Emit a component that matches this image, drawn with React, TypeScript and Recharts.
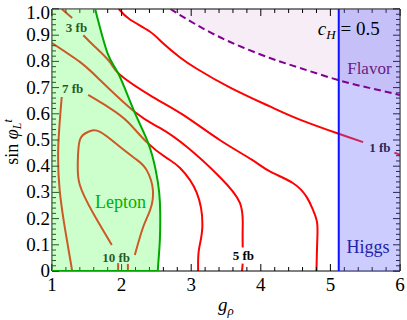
import React from 'react';
import { ComposedChart, Line, Area, XAxis, YAxis, ReferenceDot } from 'recharts';

const W = 407;
const H = 320;
const SERIF = "'Liberation Serif', 'DejaVu Serif', serif";

// ---- contour lines (g_rho, sin phi) ----
const contour1fbA = [
  { x: 1.96, y: 1.0 }, { x: 2.12, y: 0.96 }, { x: 2.4, y: 0.915 }, { x: 2.6, y: 0.868 },
  { x: 2.84, y: 0.815 }, { x: 3.08, y: 0.772 }, { x: 3.56, y: 0.7 }, { x: 4.13, y: 0.628 },
  { x: 4.56, y: 0.578 }, { x: 5.14, y: 0.522 }, { x: 5.47, y: 0.492 },
];
const contour1fbB = [{ x: 5.92, y: 0.452 }, { x: 6.0, y: 0.443 }];

const contour3fbA = [{ x: 1.14, y: 1.0 }, { x: 1.29, y: 0.966 }];
const contour3fbB = [
  { x: 1.45, y: 0.9 }, { x: 1.62, y: 0.855 }, { x: 1.83, y: 0.798 }, { x: 1.98, y: 0.748 },
  { x: 2.45, y: 0.664 }, { x: 2.89, y: 0.595 }, { x: 3.41, y: 0.5 }, { x: 3.87, y: 0.425 },
  { x: 4.13, y: 0.38 }, { x: 4.46, y: 0.336 }, { x: 4.66, y: 0.282 }, { x: 4.75, y: 0.233 },
  { x: 4.81, y: 0.183 }, { x: 4.81, y: 0.107 }, { x: 4.8, y: 0.0 },
];

const contour5fbA = [
  { x: 1.0, y: 0.87 }, { x: 1.4, y: 0.798 }, { x: 1.69, y: 0.729 }, { x: 2.19, y: 0.607 },
  { x: 2.55, y: 0.546 }, { x: 2.94, y: 0.473 }, { x: 3.41, y: 0.359 }, { x: 3.7, y: 0.26 },
  { x: 3.74, y: 0.168 }, { x: 3.74, y: 0.09 },
];
const contour5fbB = [{ x: 3.74, y: 0.028 }, { x: 3.73, y: 0.0 }];

const contour7fbA = [
  { x: 1.29, y: 0.0 }, { x: 1.19, y: 0.156 }, { x: 1.11, y: 0.309 }, { x: 1.09, y: 0.473 },
  { x: 1.14, y: 0.664 },
];
const contour7fbB = [
  { x: 1.52, y: 0.672 }, { x: 1.83, y: 0.622 }, { x: 2.09, y: 0.569 }, { x: 2.36, y: 0.492 },
  { x: 2.65, y: 0.431 }, { x: 2.84, y: 0.393 }, { x: 3.08, y: 0.298 }, { x: 3.16, y: 0.168 },
  { x: 3.11, y: 0.08 }, { x: 3.1, y: 0.0 },
];

const contour10fbA = [{ x: 1.95, y: 0.0 }, { x: 1.95, y: 0.03 }];
const contour10fbB = [
  { x: 1.86, y: 0.099 }, { x: 1.59, y: 0.221 }, { x: 1.4, y: 0.328 }, { x: 1.37, y: 0.412 },
  { x: 1.4, y: 0.5 }, { x: 1.52, y: 0.531 }, { x: 1.69, y: 0.531 }, { x: 1.98, y: 0.473 },
  { x: 2.22, y: 0.424 }, { x: 2.36, y: 0.385 }, { x: 2.45, y: 0.309 }, { x: 2.41, y: 0.233 },
  { x: 2.31, y: 0.168 }, { x: 2.19, y: 0.061 },
];
const contour10fbC = [{ x: 2.09, y: 0.027 }, { x: 2.09, y: 0.0 }];

// ---- exclusion regions ----
const leptonBoundary = [
  { x: 1.62, y: 1.0 }, { x: 1.8, y: 0.83 }, { x: 1.96, y: 0.75 }, { x: 2.18, y: 0.61 },
  { x: 2.38, y: 0.49 }, { x: 2.49, y: 0.385 }, { x: 2.54, y: 0.3 }, { x: 2.555, y: 0.22 },
  { x: 2.55, y: 0.12 }, { x: 2.53, y: 0.04 }, { x: 2.52, y: 0.0 },
];
const flavorBoundary = [
  { x: 2.7, y: 1.0 }, { x: 3.08, y: 0.939 }, { x: 3.56, y: 0.874 }, { x: 4.13, y: 0.813 },
  { x: 4.56, y: 0.775 }, { x: 5.11, y: 0.729 }, { x: 5.57, y: 0.698 }, { x: 6.0, y: 0.672 },
];
const higgsBound = 5.12;

// ---- ticks ----
const xTickLabels = [1, 2, 3, 4, 5, 6];
const yTickLabels = ['0', '0.1', '0.2', '0.3', '0.4', '0.5', '0.6', '0.7', '0.8', '0.9', '1.0'];
const xTicks = Array.from({ length: 26 }, (_, i) => Math.round((1 + i * 0.2) * 10) / 10);
const yTicks = Array.from({ length: 51 }, (_, i) => Math.round(i * 2) / 100);

// derived tables for the library
const leptonFill = [{ x: 1.0, r: [0, 1] }, ...leptonBoundary.map((p) => ({ x: p.x, r: [0, p.y] }))];
const flavorFill = flavorBoundary.map((p) => ({ x: p.x, r: [p.y, 1] }));
const higgsFill = [{ x: higgsBound, r: [0, 1] }, { x: 6, r: [0, 1] }];
const higgsLine = [{ x: higgsBound, y: 0 }, { x: higgsBound, y: 1 }];
const leptonBottom = [{ x: 1.0, y: 0 }, { x: 2.52, y: 0 }];

const isMajorX = (v: number) => Math.abs(v - Math.round(v)) < 1e-6;
const isMajorY = (v: number) => Math.abs(v * 10 - Math.round(v * 10)) < 1e-6;

const TICK_FONT = 19;

const BottomTick = (props: any) => {
  const { x, y, payload } = props;
  const v = payload.value;
  const major = isMajorX(v);
  const lbl = xTickLabels.find((t) => Math.abs(t - v) < 1e-6);
  return (
    <g>
      <line x1={x} x2={x} y1={y} y2={y - (major ? 7 : 4)} stroke="#000" strokeWidth={1} />
      {major && lbl !== undefined && (
        <text x={x} y={y + 20} textAnchor="middle" fontFamily={SERIF} fontSize={TICK_FONT} fill="#000">
          {String(lbl)}
        </text>
      )}
    </g>
  );
};
const TopTick = (props: any) => {
  const { x, y, payload } = props;
  const major = isMajorX(payload.value);
  return <line x1={x} x2={x} y1={y} y2={y + (major ? 7 : 4)} stroke="#000" strokeWidth={1} />;
};
const LeftTick = (props: any) => {
  const { x, y, payload } = props;
  const v = payload.value;
  const major = isMajorY(v);
  const idx = Math.round(v * 10);
  const dy = idx === 10 ? 10 : 6;
  return (
    <g>
      <line x1={x} x2={x + (major ? 7 : 4)} y1={y} y2={y} stroke="#000" strokeWidth={1} />
      {major && (
        <text x={x - 2} y={y + dy} textAnchor="end" fontFamily={SERIF} fontSize={TICK_FONT} fill="#000">
          {yTickLabels[idx]}
        </text>
      )}
    </g>
  );
};
const RightTick = (props: any) => {
  const { x, y, payload } = props;
  const major = isMajorY(payload.value);
  return <line x1={x} x2={x - (major ? 7 : 4)} y1={y} y2={y} stroke="#000" strokeWidth={1} />;
};

const YTitle = () => (
  <text transform="rotate(-90)" x={-142} y={18} textAnchor="middle" fontFamily={SERIF} fontSize={18} fill="#000">
    <tspan>sin </tspan>
    <tspan fontStyle="italic">φ</tspan>
    <tspan fontStyle="italic" fontSize={12} dy={3}>L</tspan>
    <tspan fontStyle="italic" fontSize={12} dy={-9}>t</tspan>
  </text>
);
const XTitle = () => (
  <text x={218} y={311} fontFamily={SERIF} fontSize={19} fill="#000">
    <tspan fontStyle="italic">g</tspan>
    <tspan fontStyle="italic" fontSize={13} dy={4}>ρ</tspan>
  </text>
);

const centerOf = (p: any) => {
  const vb = p.viewBox || {};
  return { cx: (vb.x || 0) + (vb.width || 0) / 2, cy: (vb.y || 0) + (vb.height || 0) / 2 };
};
const plainLabel = (text: string, fill: string, size: number, weight: string) => (p: any) => {
  const { cx, cy } = centerOf(p);
  return (
    <text x={cx} y={cy} textAnchor="middle" fontFamily={SERIF} fontSize={size} fontWeight={weight} fill={fill}>
      {text}
    </text>
  );
};
const cHLabel = (p: any) => {
  const { cx, cy } = centerOf(p);
  return (
    <text x={cx} y={cy} textAnchor="start" fontFamily={SERIF} fontSize={19} fill="#000">
      <tspan fontStyle="italic">c</tspan>
      <tspan fontStyle="italic" fontSize={13} dy={4}>H</tspan>
      <tspan dy={-4}> = 0.5</tspan>
    </text>
  );
};

// labels drawn under the translucent overlays (black text tinted by region)
const contourLabels = [
  { x: 1.352, y: 0.912, text: '3 fb' },
  { x: 1.295, y: 0.679, text: '7 fb' },
  { x: 1.92, y: 0.034, text: '10 fb' },
  { x: 3.75, y: 0.042, text: '5 fb' },
  { x: 5.71, y: 0.456, text: '1 fb' },
];
const regionLabels = [
  { x: 1.985, y: 0.24, content: plainLabel('Lepton', '#00b000', 18, 'normal') },
  { x: 5.54, y: 0.069, content: plainLabel('Higgs', '#2222aa', 18, 'normal') },
  { x: 5.56, y: 0.752, content: plainLabel('Flavor', '#6a1a80', 17, 'normal') },
  { x: 4.82, y: 0.901, content: cHLabel },
];

const contourProps = {
  dataKey: 'y',
  stroke: '#ff0000',
  strokeWidth: 2,
  dot: false,
  activeDot: false,
  isAnimationActive: false,
  type: 'natural' as const,
};

const layer: React.CSSProperties = { position: 'absolute', left: 0, top: 0 };

export default function App() {
  const contours = [
    contour1fbA, contour1fbB, contour3fbA, contour3fbB, contour5fbA, contour5fbB,
    contour7fbA, contour7fbB, contour10fbA, contour10fbB, contour10fbC,
  ];
  return (
    <div style={{ position: 'absolute', left: 0, top: 0, width: W, height: H, fontFamily: SERIF }}>
      {/* base layer: axes, contours, contour labels */}
      <div style={layer}>
        <ComposedChart width={W} height={H} margin={{ top: 8, right: 6, bottom: 0, left: 0 }}>
          <XAxis
            xAxisId={0} type="number" dataKey="x" domain={[1, 6]} allowDataOverflow ticks={xTicks} interval={0}
            tick={<BottomTick />} tickLine={false} tickSize={0} tickMargin={0} height={49}
            axisLine={{ stroke: '#000' }} label={{ content: XTitle }}
          />
          <XAxis
            xAxisId="top" orientation="top" type="number" dataKey="x" domain={[1, 6]} allowDataOverflow
            ticks={xTicks} interval={0} tick={<TopTick />} tickLine={false} tickSize={0} tickMargin={0} height={1}
            axisLine={{ stroke: '#000' }}
          />
          <YAxis
            yAxisId={0} type="number" domain={[0, 1]} allowDataOverflow ticks={yTicks} interval={0}
            tick={<LeftTick />} tickLine={false} tickSize={0} tickMargin={0} width={52}
            axisLine={{ stroke: '#000' }} label={{ content: YTitle }}
          />
          <YAxis
            yAxisId="right" orientation="right" type="number" domain={[0, 1]} allowDataOverflow ticks={yTicks}
            interval={0} tick={<RightTick />} tickLine={false} tickSize={0} tickMargin={0} width={1}
            axisLine={{ stroke: '#000' }}
          />
          {contours.map((c, i) => (
            <Line key={'c' + i} data={c} {...contourProps} />
          ))}
          {contourLabels.map((a, i) => (
            <ReferenceDot key={'l' + i} x={a.x} y={a.y} r={1} fill="none" stroke="none"
              label={{ content: plainLabel(a.text, '#000', 13, 'bold') }} />
          ))}
        </ComposedChart>
      </div>
      {/* overlay layer: translucent exclusion regions and their borders */}
      <div style={layer}>
        <ComposedChart width={W} height={H} margin={{ top: 9, right: 7, bottom: 49, left: 52 }}>
          <XAxis type="number" dataKey="x" domain={[1, 6]} allowDataOverflow hide />
          <YAxis type="number" domain={[0, 1]} allowDataOverflow hide />
          <Area data={leptonFill} dataKey="r" type="linear" fill="#6dff6d" fillOpacity={0.35} stroke="none"
            isAnimationActive={false} dot={false} activeDot={false} />
          <Area data={flavorFill} dataKey="r" type="natural" fill="#800080" fillOpacity={0.07} stroke="none"
            isAnimationActive={false} dot={false} activeDot={false} />
          <Area data={higgsFill} dataKey="r" type="linear" fill="#6d6dff" fillOpacity={0.35} stroke="none"
            isAnimationActive={false} dot={false} activeDot={false} />
          <Line data={leptonBoundary} dataKey="y" type="natural" stroke="#00a800" strokeWidth={2} dot={false}
            activeDot={false} isAnimationActive={false} />
          <Line data={leptonBottom} dataKey="y" type="linear" stroke="#00a800" strokeWidth={2} dot={false}
            activeDot={false} isAnimationActive={false} />
          <Line data={flavorBoundary} dataKey="y" type="natural" stroke="#800090" strokeWidth={2}
            strokeDasharray="7 4" dot={false} activeDot={false} isAnimationActive={false} />
          <Line data={higgsLine} dataKey="y" type="linear" stroke="#1010ff" strokeWidth={2} dot={false}
            activeDot={false} isAnimationActive={false} />
          {regionLabels.map((a, i) => (
            <ReferenceDot key={'a' + i} x={a.x} y={a.y} r={1} fill="none" stroke="none" label={{ content: a.content }} />
          ))}
        </ComposedChart>
      </div>
    </div>
  );
}
